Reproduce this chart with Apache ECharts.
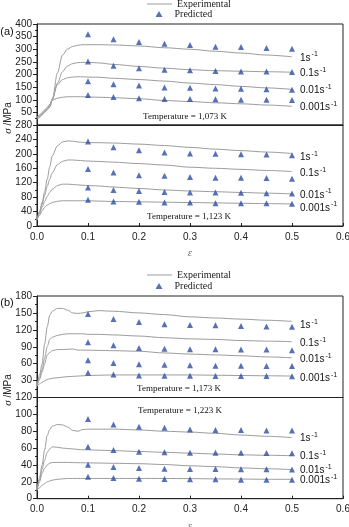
<!DOCTYPE html>
<html><head><meta charset="utf-8">
<script src="https://cdn.jsdelivr.net/npm/echarts@6.0.0/dist/echarts.min.js"></script>
<style>html,body{margin:0;padding:0;background:#fff}#c{width:349px;height:527px}</style>
</head><body><div id="c"></div><script>
// strain values for experimental curves
const strain = [0,0.005,0.01,0.015,0.02,0.025,0.03,0.04,0.05,0.06,0.07,0.08,0.09,0.1,0.12,0.15,0.2,0.25,0.3,0.35,0.4,0.45,0.5];
// strain values for predicted points
const strainPred = [0.1,0.15,0.2,0.25,0.3,0.35,0.4,0.45,0.5];
const rateLabels = ['1', '0.1', '0.01', '0.001'];
const tempLabels = ['Temperature = 1,073 K','Temperature = 1,123 K','Temperature = 1,173 K','Temperature = 1,223 K'];
const yMaxes = [400, 280, 180, 120];
const yIntervals = [50, 40, 30, 20];

// 1073 K experimental
const exp1073_1    = [22,30,40,50,60,70,99,206,277,301,311,316,318,318,318,317,313,306,300,292,285,277,270];
const exp1073_01   = [25,33,42,52,62,72,99,165,211,234,243,247,248,248,246,240,232,225,219,215,213,211,209];
const exp1073_001  = [28,36,45,55,65,78,105,160,180,187,190,191,191,190,189,185,180,174,166,160,153,147,141];
const exp1073_0001 = [30,40,50,60,70,82,98,106,110,112,112,112,112,111,110,108,104,97,93,88,84,79,74];
// 1073 K predicted
const pred1073_1    = [359,340,329,322,317,310,309,305,302];
const pred1073_01   = [251,235,225,219,217,214,212,212,210];
const pred1073_001  = [173,161,156,149,148,145,144,142,140];
const pred1073_0001 = [119,111,106,103,103,102,100,100,99];

// 1123 K experimental
const exp1123_1    = [17,40,65,95,130,164,195,222,233,236,235,233,232,231,231,230,227,223,218,213,209,205,201];
const exp1123_01   = [17,38,60,85,110,130,148,170,179,183,183,182,181,180,179,177,173,169,163,160,157,154,151];
const exp1123_001  = [17,35,52,68,82,93,102,112,116,116,115,114,113,112,111,108,104,100,97,95,93,91,89];
const exp1123_0001 = [17,30,42,52,58,62,65,68.5,70,70,70,70,70,70,69,68,67,66,65,64,63,62,61];
// 1123 K predicted
const pred1123_1    = [234,218,210,204,201,200,199,198,196];
const pred1123_01   = [158,148,141,139,136,134,134,133,131];
const pred1123_001  = [107,100,97,94,93,93,92,91,90];
const pred1123_0001 = [73,68,67,65,65,63,63,63,62];

// 1173 K experimental
const exp1173_1    = [20,40,60,95,125,146,153,158,158,155,150,149,150,152,154,153,150,147,143,141,139,137,135];
const exp1173_01   = [20,35,50,70,90,103,107,110,112,113,113,113,113,112,112,111,109,106,104,103,101,100,99];
const exp1173_001  = [20,32,45,60,75,80,83,85,85,85.5,86,84,84,84,83.5,83,82,79,77,75.5,74,72,70.5];
const exp1173_0001 = [20,24,27,29.5,32,33,34,35,36,37,37.5,38,38.5,39,39.5,40,40,40,40,39.5,39,38.5,38];
// 1173 K predicted
const pred1173_1    = [148,139,134,130,128.5,128,127,126,125.5];
const pred1173_01   = [98,92.5,88,86.5,85.5,85.5,85,85,84];
const pred1173_001  = [66,61,59,58,57,56.5,56.5,56,56];
const pred1173_0001 = [44,41,39,38.7,38.5,38,38,38,37.6];

// 1223 K experimental
const exp1223_1    = [10,25,40,58,75,82,86,88,87.5,85,81,80,82,82.5,82.5,82.5,81.5,80,79,77.5,75.5,74,72.5];
const exp1223_01   = [10,22,35,46,55,59,61.5,61,60,59.5,59,58.5,58,58,57.5,57,56,55,54,53,52,51.5,51];
const exp1223_001  = [10,20,30,36,40,42,43,43,43,43,42.8,42.7,42.6,42.5,42.3,42,41.5,40.5,39,38,36.5,35.5,34.5];
const exp1223_0001 = [10,13,16,18,20,21,22,23,23.5,24,24,24,24,24,24,24,24,24,23.8,23.5,23.3,23,23];
// 1223 K predicted
const pred1223_1    = [94.5,88,85.4,84,82,81.5,81.5,81,81];
const pred1223_01   = [61.7,57.8,55.8,55,54.6,54.4,54.4,54.2,53.8];
const pred1223_001  = [40.3,37.6,36.4,35.6,35.3,35.2,34.8,34.8,34.6];
const pred1223_0001 = [26,24.5,23.7,23.4,23,23,22.5,22.5,22.5];

const expSets = [
  [exp1073_1, exp1073_01, exp1073_001, exp1073_0001],
  [exp1123_1, exp1123_01, exp1123_001, exp1123_0001],
  [exp1173_1, exp1173_01, exp1173_001, exp1173_0001],
  [exp1223_1, exp1223_01, exp1223_001, exp1223_0001]
];
const predSets = [
  [pred1073_1, pred1073_01, pred1073_001, pred1073_0001],
  [pred1123_1, pred1123_01, pred1123_001, pred1123_0001],
  [pred1173_1, pred1173_01, pred1173_001, pred1173_0001],
  [pred1223_1, pred1223_01, pred1223_001, pred1223_0001]
];

const AX = '#222';
const SANS = 'Liberation Sans, Arial, sans-serif';
const SERIF = 'Liberation Serif, Times New Roman, serif';
const gridBoxes = [
  {top: 24, height: 101},
  {top: 125, height: 101},
  {top: 296, height: 101.5},
  {top: 397.5, height: 101.2}
];
const isUpper = [true, false, true, false];
// vertical nudges of the rate labels (px), per panel and rate
const labelNudge = [[0,0,0,0],[3,1,0,3],[3,1,1,1],[0,0,0,0]];

const grid = gridBoxes.map(g => ({
  left: 37, width: 306, top: g.top, height: g.height,
  show: true, borderColor: AX, borderWidth: 1, containLabel: false, outerBoundsMode: 'none'
}));

const xAxis = gridBoxes.map((g, i) => ({
  gridIndex: i, type: 'value', min: 0, max: 0.6, interval: 0.1,
  axisLine: {show: true, lineStyle: {color: AX}},
  axisTick: {show: !isUpper[i], inside: true, length: 3, lineStyle: {color: AX}},
  splitLine: {show: false},
  axisLabel: {show: !isUpper[i], fontSize: 10, color: AX, fontFamily: SANS, margin: 6,
    formatter: v => v.toFixed(1)},
  name: isUpper[i] ? '' : 'ε', nameLocation: 'middle', nameGap: 22,
  nameTextStyle: {fontStyle: 'italic', color: '#777', fontSize: 11, fontFamily: SERIF}
}));

const yAxis = gridBoxes.map((g, i) => ({
  gridIndex: i, type: 'value', min: 0, max: yMaxes[i], interval: yIntervals[i],
  axisLine: {show: true, lineStyle: {color: AX}},
  axisTick: {show: true, length: 4, lineStyle: {color: AX}},
  minorTick: {show: true, splitNumber: 2, length: 2, lineStyle: {color: AX}},
  splitLine: {show: false},
  axisLabel: {fontSize: 10, color: AX, fontFamily: SANS, margin: 5, showMaxLabel: true, showMinLabel: true,
    formatter: v => (isUpper[i] && v === 0) ? '' : String(v)}
}));

const series = [];
expSets.forEach((set, p) => {
  set.forEach((arr, r) => {
    series.push({
      name: 'Experimental', type: 'line', xAxisIndex: p, yAxisIndex: p,
      data: strain.map((x, k) => [x, arr[k]]),
      smooth: 0.3, smoothMonotone: 'x', symbol: 'none', showSymbol: false,
      lineStyle: {color: '#9c9c9c', width: 1}, itemStyle: {color: '#9c9c9c'},
      silent: true, animation: false, z: 2,
      endLabel: {
        show: true, distance: 8, offset: [0, labelNudge[p][r]],
        formatter: () => '{m|' + rateLabels[r] + 's}{s|-1}',
        rich: {
          m: {fontSize: 10, fontFamily: SANS, color: '#111', lineHeight: 12, verticalAlign: 'bottom'},
          s: {fontSize: 7, fontFamily: SANS, color: '#111', lineHeight: 12, verticalAlign: 'top', padding: [0,0,5,1]}
        }
      }
    });
  });
});
predSets.forEach((set, p) => {
  set.forEach((arr) => {
    series.push({
      name: 'Predicted', type: 'scatter', xAxisIndex: p, yAxisIndex: p,
      data: strainPred.map((x, k) => [x, arr[k]]),
      symbol: 'triangle', symbolSize: 6,
      itemStyle: {color: '#2d4ea3'}, silent: true, animation: false, z: 3
    });
  });
});

const legTop = [[-1, 9], [270, 281]];
const legend = [];
legTop.forEach(t => {
  legend.push({data: [{name: 'Experimental', icon: 'rect'}], left: 147, top: t[0], padding: 0,
    itemWidth: 25, itemHeight: 1, selectedMode: false,
    textStyle: {fontFamily: SERIF, fontSize: 10, color: '#222'}});
  legend.push({data: [{name: 'Predicted', icon: 'triangle'}], left: 155.5, top: t[1], padding: 0,
    itemWidth: 7, itemHeight: 6, selectedMode: false,
    textStyle: {fontFamily: SERIF, fontSize: 10, color: '#222', padding: [0,0,0,7]}});
});

const tempPos = [[185, 117], [189, 217], [179, 389], [180, 411]];
const graphic = [];
tempPos.forEach((pp, i) => {
  graphic.push({type: 'text', x: pp[0], y: pp[1], silent: true,
    style: {text: tempLabels[i], fontFamily: SERIF, fontSize: 9, fill: '#111', align: 'center', verticalAlign: 'middle'}});
});
[[7, 32, '(a)'], [7, 303, '(b)']].forEach(q => {
  graphic.push({type: 'text', x: q[0], y: q[1], silent: true,
    style: {text: q[2], fontFamily: SANS, fontSize: 11, fill: '#111', align: 'center', verticalAlign: 'middle'}});
});
[118, 390].forEach(y => {
  graphic.push({type: 'text', x: 8, y: y, rotation: Math.PI / 2, silent: true,
    style: {text: '{i|σ} /MPa', fontFamily: SANS, fontSize: 10, fill: '#222', align: 'center', verticalAlign: 'middle',
      rich: {i: {fontStyle: 'italic', fontFamily: SERIF, fontSize: 11, fill: '#222'}}}});
});

const chart = echarts.init(document.getElementById('c'), null, {renderer: 'canvas'});
chart.setOption({
  animation: false,
  backgroundColor: '#fff',
  grid, xAxis, yAxis, series, legend, graphic
});
</script></body></html>
